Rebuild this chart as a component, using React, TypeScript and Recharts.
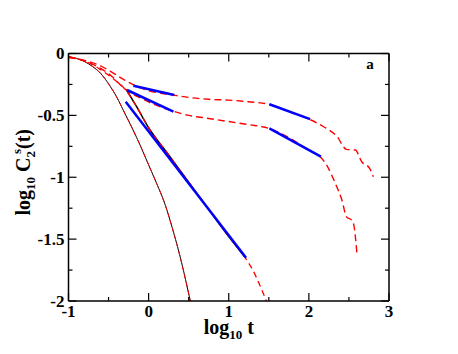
import { LineChart, Line, XAxis, YAxis, Label } from "recharts";

// log10 t values and log10 C2s(t) values
const curveAx = [-1, -0.9, -0.8, -0.7, -0.6, -0.5, -0.4, -0.3, -0.2, -0.1, 0, 0.1, 0.2, 0.3, 0.4, 0.52];
const curveAy = [-0.025, -0.04, -0.065, -0.105, -0.16, -0.245, -0.35, -0.48, -0.61, -0.75, -0.9, -1.05, -1.21, -1.42, -1.66, -2.0];

const curveBx = [-1, -0.8, -0.6, -0.45, -0.28, -0.15, 0, 0.25, 0.5, 0.75, 1.0, 1.2, 1.3, 1.4, 1.47];
const curveBy = [-0.03, -0.06, -0.13, -0.2, -0.3, -0.43, -0.6, -0.82, -1.04, -1.26, -1.48, -1.645, -1.75, -1.89, -2.0];

const curveCx = [-1, -0.8, -0.6, -0.45, -0.3, -0.1, 0.1, 0.3, 0.5, 0.75, 1.0, 1.25, 1.5, 1.75, 2.0, 2.15, 2.22, 2.33, 2.41, 2.47, 2.54, 2.565, 2.6];
const curveCy = [-0.03, -0.06, -0.12, -0.19, -0.285, -0.36, -0.42, -0.465, -0.5, -0.525, -0.55, -0.575, -0.605, -0.68, -0.78, -0.84, -0.9, -1.05, -1.18, -1.32, -1.35, -1.4, -1.62];

const curveDx = [-1, -0.8, -0.6, -0.45, -0.3, -0.2, 0, 0.3, 0.5, 0.75, 1.0, 1.25, 1.5, 1.75, 2.0, 2.18, 2.35, 2.47, 2.58, 2.66, 2.76, 2.805];
const curveDy = [-0.03, -0.055, -0.1, -0.155, -0.215, -0.25, -0.3, -0.335, -0.355, -0.37, -0.377, -0.39, -0.41, -0.47, -0.53, -0.59, -0.67, -0.775, -0.78, -0.875, -0.93, -0.996];

// black solid data (under the dashed curves)
const blackBx = [-0.28, -0.15, 0, 0.25, 0.5, 0.75, 1.0, 1.2];
const blackBy = [-0.29, -0.43, -0.6, -0.82, -1.04, -1.26, -1.48, -1.645];

// blue power-law fits
const fitB = { x: [-0.286, 1.216], y: [-0.39, -1.65] };
const fitC1 = { x: [-0.27, 0.31], y: [-0.295, -0.47] };
const fitD1 = { x: [-0.19, 0.32], y: [-0.26, -0.335] };
const fitC2 = { x: [1.507, 2.15], y: [-0.605, -0.834] };
const fitD2 = { x: [1.507, 2.015], y: [-0.41, -0.53] };

const xTicks = [-1, -0.5, 0, 0.5, 1, 1.5, 2, 2.5, 3];
const yTicks = [0, -0.25, -0.5, -0.75, -1, -1.25, -1.5, -1.75, -2];

const zip = (xs: number[], ys: number[]) => xs.map((x, i) => ({ x, y: ys[i] }));

const font = "'Liberation Serif', 'Times New Roman', serif";
const RED = "#ff0000";
const BLUE = "#0000ff";

const BottomTick = (props: any) => {
  const { x, y, payload } = props;
  const v = payload.value;
  const major = Number.isInteger(v);
  const base = y - 4;
  return (
    <g>
      <line x1={x} x2={x} y1={base} y2={base - (major ? 8 : 4)} stroke="#000" strokeWidth={1.2} />
      {major && (
        <text x={x} y={y} dy="0.71em" textAnchor="middle" fontFamily={font} fontWeight="bold" fontSize={17} fill="#000">
          {v}
        </text>
      )}
    </g>
  );
};

const LeftTick = (props: any) => {
  const { x, y, payload } = props;
  const v = payload.value;
  const major = Math.abs(v * 2 - Math.round(v * 2)) < 1e-6;
  const base = x + 4;
  return (
    <g>
      <line x1={base} x2={base + (major ? 8 : 4)} y1={y} y2={y} stroke="#000" strokeWidth={1.2} />
      {major && (
        <text x={x} y={y} dy="0.35em" textAnchor="end" fontFamily={font} fontWeight="bold" fontSize={17} fill="#000">
          {v}
        </text>
      )}
    </g>
  );
};

const TopTick = (props: any) => {
  const { x, y, payload } = props;
  const major = Number.isInteger(payload.value);
  return <line x1={x} x2={x} y1={y} y2={y + (major ? 8 : 4)} stroke="#000" strokeWidth={1.2} />;
};

const RightTick = (props: any) => {
  const { x, y, payload } = props;
  const v = payload.value;
  const major = Math.abs(v * 2 - Math.round(v * 2)) < 1e-6;
  return <line x1={x} x2={x - (major ? 8 : 4)} y1={y} y2={y} stroke="#000" strokeWidth={1.2} />;
};

const XLabel = (props: any) => {
  const vb = props.viewBox || { x: 60.5, y: 293, width: 320.5, height: 40 };
  return (
    <text x={vb.x + vb.width / 2} y={vb.y + 33} textAnchor="middle" fontFamily={font} fontWeight="bold" fontSize={20} fill="#000">
      log
      <tspan fontSize={13} dy={5}>10</tspan>
      <tspan dy={-5}> t</tspan>
    </text>
  );
};

const YLabel = (props: any) => {
  const vb = props.viewBox || { x: 20.5, y: 45.5, width: 40, height: 247.5 };
  const cx = vb.x + 1.5;
  const cy = vb.y + vb.height / 2 - 5;
  return (
    <text transform={`translate(${cx},${cy}) rotate(-90)`} x={0} y={0} textAnchor="middle" fontFamily={font} fontWeight="bold" fontSize={20} fill="#000">
      log
      <tspan fontSize={13} dy={5}>10</tspan>
      <tspan dy={-5}> C</tspan>
      <tspan fontSize={13} dy={5}>2</tspan>
      <tspan fontSize={13} dx={-3} dy={-14}>s</tspan>
      <tspan dy={9}>(t)</tspan>
    </text>
  );
};

const PanelLabel = (props: any) => {
  const vb = props.viewBox || { x: 381, y: 45.5 };
  return (
    <text x={vb.x - 19} y={vb.y + 15} textAnchor="middle" fontFamily={font} fontWeight="bold" fontSize={15} fill="#000">
      a
    </text>
  );
};

export default function App() {
  return (
    <LineChart width={442} height={338} margin={{ top: 44.5, right: 60, bottom: 5, left: 20.5 }}>
      <XAxis
        type="number"
        dataKey="x"
        domain={[-1, 3]}
        ticks={xTicks}
        allowDataOverflow
        height={40}
        tickSize={0}
        tickMargin={4}
        tickLine={false}
        tick={BottomTick}
        interval={0}
        axisLine={{ stroke: "#000", strokeWidth: 1.5 }}
      >
        <Label content={XLabel} />
      </XAxis>
      <XAxis
        xAxisId="t"
        orientation="top"
        type="number"
        dataKey="x"
        domain={[-1, 3]}
        ticks={xTicks}
        allowDataOverflow
        height={1}
        tickSize={0}
        tickMargin={0}
        tickLine={false}
        tick={TopTick}
        interval={0}
        axisLine={{ stroke: "#000", strokeWidth: 1.5 }}
      />
      <YAxis
        type="number"
        domain={[-2, 0]}
        ticks={yTicks}
        allowDataOverflow
        width={40}
        tickSize={0}
        tickMargin={4}
        tickLine={false}
        tick={LeftTick}
        interval={0}
        axisLine={{ stroke: "#000", strokeWidth: 1.5 }}
      >
        <Label content={YLabel} />
      </YAxis>
      <YAxis
        yAxisId="r"
        orientation="right"
        type="number"
        domain={[-2, 0]}
        ticks={yTicks}
        allowDataOverflow
        width={1}
        tickSize={0}
        tickMargin={0}
        tickLine={false}
        tick={RightTick}
        interval={0}
        axisLine={{ stroke: "#000", strokeWidth: 1.5 }}
      >
        <Label content={PanelLabel} />
      </YAxis>

      <Line data={zip(curveAx, curveAy)} dataKey="y" type="monotone" stroke="#000" strokeWidth={1} dot={false} isAnimationActive={false} />
      <Line data={zip(blackBx, blackBy)} dataKey="y" type="monotone" stroke="#000" strokeWidth={1.5} dot={false} isAnimationActive={false} />

      <Line data={zip(curveAx, curveAy)} dataKey="y" type="monotone" stroke={RED} strokeWidth={1} strokeDasharray="5 3" dot={false} isAnimationActive={false} />
      <Line data={zip(curveBx, curveBy)} dataKey="y" type="monotone" stroke={RED} strokeWidth={1.3} strokeDasharray="6 4" dot={false} isAnimationActive={false} />
      <Line data={zip(curveCx, curveCy)} dataKey="y" type="monotone" stroke={RED} strokeWidth={1.4} strokeDasharray="7 4" dot={false} isAnimationActive={false} />
      <Line data={zip(curveDx, curveDy)} dataKey="y" type="monotone" stroke={RED} strokeWidth={1.4} strokeDasharray="7 4" dot={false} isAnimationActive={false} />

      <Line data={zip(fitB.x, fitB.y)} dataKey="y" type="linear" stroke={BLUE} strokeWidth={2.5} dot={false} isAnimationActive={false} />
      <Line data={zip(fitC1.x, fitC1.y)} dataKey="y" type="linear" stroke={BLUE} strokeWidth={2.5} dot={false} isAnimationActive={false} />
      <Line data={zip(fitD1.x, fitD1.y)} dataKey="y" type="linear" stroke={BLUE} strokeWidth={2.5} dot={false} isAnimationActive={false} />
      <Line data={zip(fitC2.x, fitC2.y)} dataKey="y" type="linear" stroke={BLUE} strokeWidth={2.5} dot={false} isAnimationActive={false} />
      <Line data={zip(fitD2.x, fitD2.y)} dataKey="y" type="linear" stroke={BLUE} strokeWidth={2.5} dot={false} isAnimationActive={false} />
    </LineChart>
  );
}
